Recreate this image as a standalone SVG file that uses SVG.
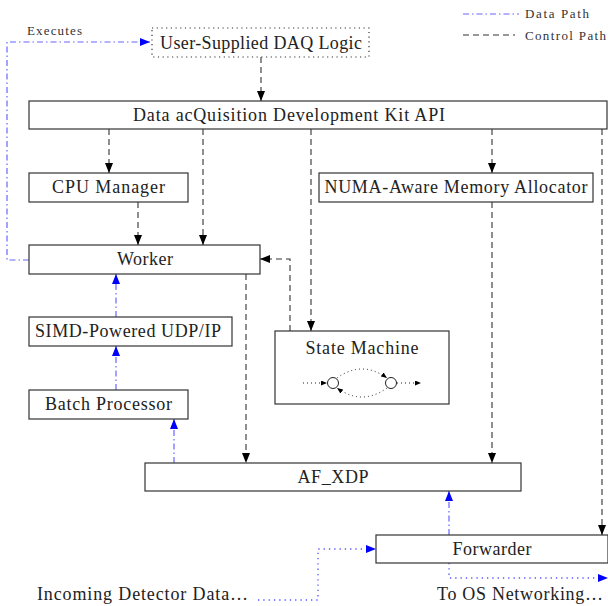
<svg xmlns="http://www.w3.org/2000/svg" width="608" height="606" viewBox="0 0 608 606">
<defs>
<marker id="ak" markerWidth="10" markerHeight="8" refX="10" refY="4" orient="auto" markerUnits="userSpaceOnUse"><path d="M0,0 L10,4 L0,8 Z" fill="#000"/></marker>
<marker id="ab" markerWidth="10" markerHeight="8" refX="10" refY="4" orient="auto" markerUnits="userSpaceOnUse"><path d="M0,0 L10,4 L0,8 Z" fill="#00f"/></marker>
<marker id="as" markerWidth="6" markerHeight="5" refX="6" refY="2.5" orient="auto" markerUnits="userSpaceOnUse"><path d="M0,0 L6,2.5 L0,5 Z" fill="#000"/></marker>
<style>
.box{fill:#fff;stroke:#333;stroke-width:1.2}
.t{font-family:"Liberation Serif","DejaVu Serif",serif;font-size:18px;fill:#222;text-anchor:middle}
.s{font-family:"Liberation Serif","DejaVu Serif",serif;font-size:13px;fill:#333}
.ctl{fill:none;stroke:#333;stroke-width:1.1;stroke-dasharray:6 4}
.dat{fill:none;stroke:#6666ff;stroke-width:1.2;stroke-dasharray:6 3 1.5 3}
.dot{fill:none;stroke:#5555ff;stroke-width:1.3;stroke-dasharray:1.3 4}
.sm{fill:none;stroke:#222;stroke-width:1;stroke-dasharray:1 3}
</style>
</defs>
<g id="legend">
<line x1="463" y1="14" x2="519" y2="14" class="dat"/>
<text x="525" y="18" class="s" textLength="64">Data Path</text>
<line x1="463" y1="35" x2="515" y2="35" class="ctl" stroke="#000"/>
<text x="525" y="40" class="s" textLength="81">Control Path</text>
</g>
<g id="connectors">
<polyline points="29,260 7,260 7,42 150,42" class="dat" marker-end="url(#ab)"/>
<text x="27" y="35" class="s" font-size="12" textLength="55">Executes</text>
<line x1="261" y1="57" x2="261" y2="101" class="ctl" marker-end="url(#ak)"/>
<line x1="109" y1="129" x2="109" y2="173" class="ctl" marker-end="url(#ak)"/>
<line x1="203" y1="129" x2="203" y2="245" class="ctl" marker-end="url(#ak)"/>
<line x1="311" y1="129" x2="311" y2="331" class="ctl" marker-end="url(#ak)"/>
<line x1="492" y1="129" x2="492" y2="173" class="ctl" marker-end="url(#ak)"/>
<line x1="602" y1="129" x2="602" y2="535" class="ctl" marker-end="url(#ak)"/>
<line x1="138" y1="202" x2="138" y2="245" class="ctl" marker-end="url(#ak)"/>
<polyline points="290,331 290,259 260,259" class="ctl" marker-end="url(#ak)"/>
<line x1="246" y1="274" x2="246" y2="463" class="ctl" marker-end="url(#ak)"/>
<line x1="492" y1="202" x2="492" y2="463" class="ctl" marker-end="url(#ak)"/>
<line x1="116" y1="317" x2="116" y2="274" class="dat" marker-end="url(#ab)"/>
<line x1="116" y1="390" x2="116" y2="346" class="dat" marker-end="url(#ab)"/>
<line x1="174" y1="463" x2="174" y2="419" class="dat" marker-end="url(#ab)"/>
<line x1="449" y1="535" x2="449" y2="491" class="dat" marker-end="url(#ab)"/>
<polyline points="258,600 318,600 318,549 376,549" class="dot" marker-end="url(#ab)"/>
<polyline points="449,563 449,578 608,578" class="dot" marker-end="url(#ab)"/>
</g>
<g id="daq-logic">
<rect x="152" y="28" width="217" height="29" fill="#fff" stroke="#333" stroke-width="1.2" stroke-dasharray="1.2 3.5"/>
<text x="261" y="49" class="t" textLength="202">User-Supplied DAQ Logic</text>
</g>
<g id="api">
<rect x="29" y="101" width="578" height="28" class="box"/>
<text x="289" y="121" class="t" textLength="312">Data acQuisition Development Kit API</text>
</g>
<g id="cpu-manager">
<rect x="29" y="173" width="159" height="29" class="box"/>
<text x="108.5" y="193" class="t" textLength="113">CPU Manager</text>
</g>
<g id="numa">
<rect x="319" y="173" width="274" height="29" class="box"/>
<text x="456" y="193" class="t" textLength="263">NUMA-Aware Memory Allocator</text>
</g>
<g id="worker">
<rect x="29" y="245" width="231" height="29" class="box"/>
<text x="145" y="265" class="t" textLength="56">Worker</text>
</g>
<g id="simd">
<rect x="29" y="317" width="203" height="29" class="box"/>
<text x="128" y="337" class="t" textLength="186">SIMD-Powered UDP/IP</text>
</g>
<g id="batch">
<rect x="29" y="390" width="159" height="29" class="box"/>
<text x="108.5" y="410" class="t" textLength="127">Batch Processor</text>
</g>
<g id="state-machine">
<rect x="275" y="331" width="174" height="73" class="box"/>
<text x="362" y="354" class="t" textLength="113">State Machine</text>
<circle cx="333" cy="383" r="5.5" fill="none" stroke="#222" stroke-width="1"/>
<circle cx="391" cy="383" r="5.5" fill="none" stroke="#222" stroke-width="1"/>
<line x1="303" y1="383" x2="327" y2="383" class="sm" marker-end="url(#as)"/>
<path d="M337,378 Q362,360 387,378" class="sm" marker-end="url(#as)"/>
<path d="M387,388 Q362,406 337,388" class="sm" marker-end="url(#as)"/>
<line x1="397" y1="383" x2="421" y2="383" class="sm" marker-end="url(#as)"/>
</g>
<g id="af-xdp">
<rect x="145" y="463" width="376" height="28" class="box"/>
<text x="333" y="483" class="t" textLength="71">AF_XDP</text>
</g>
<g id="forwarder">
<rect x="376" y="535" width="232" height="28" class="box"/>
<text x="492" y="555" class="t" textLength="79">Forwarder</text>
</g>
<g id="incoming">
<text x="37" y="600" class="t" style="text-anchor:start" textLength="211">Incoming Detector Data…</text>
</g>
<g id="os-networking">
<text x="437" y="600" class="t" style="text-anchor:start" textLength="166">To OS Networking…</text>
</g>
</svg>
